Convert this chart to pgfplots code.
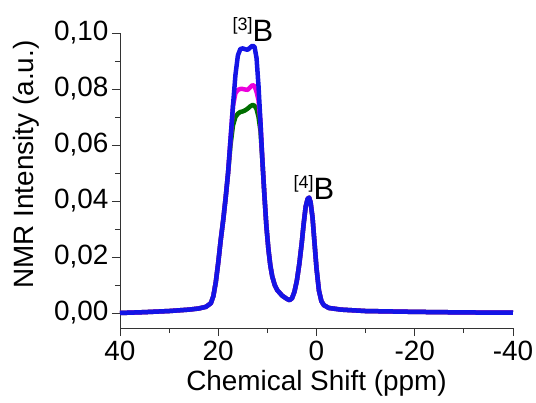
\documentclass[border=0pt]{standalone}
\usepackage{pgfplots}
\pgfplotsset{compat=1.18}
\usepackage{pgfplotstable}
\usepackage{fontspec}
\setmainfont{Liberation Sans}
\definecolor{cblue}{RGB}{20,20,230}
\definecolor{cmag}{RGB}{235,0,220}
\definecolor{cgreen}{RGB}{0,110,0}
\pgfplotstableread{
x y
40 0.0000
35 0.0003
30 0.0007
26 0.0012
24 0.0016
22.5 0.0022
21.5 0.0035
21 0.0060
20.5 0.0110
20 0.0180
19.5 0.0260
19 0.0330
18.5 0.0410
18 0.0500
17.5 0.0620
17 0.0740
16.5 0.0850
16 0.0920
15.5 0.0943
15 0.0945
14.5 0.0942
14 0.0940
13.5 0.0948
13 0.0955
12.6 0.0950
12.2 0.0910
11.8 0.0810
11.4 0.0680
11 0.0540
10.6 0.0420
10.2 0.0310
9.8 0.0230
9.4 0.0170
9 0.0130
8.5 0.0100
8 0.0082
7 0.0062
6 0.0050
5.5 0.0046
5 0.0052
4.5 0.0075
4 0.0115
3.5 0.0175
3 0.0250
2.6 0.0320
2.2 0.0380
1.8 0.0408
1.5 0.0412
1.2 0.0395
0.8 0.0340
0.4 0.0250
0 0.0160
-0.5 0.0080
-1 0.0042
-1.5 0.0028
-2.5 0.0018
-5 0.0012
-10 0.0007
-20 0.0004
-30 0.0002
-40 0.0001
}\tblue
\pgfplotstableread{
x y
40 0.0000
35 0.0003
30 0.0007
26 0.0012
24 0.0016
22.5 0.0022
21.5 0.0035
21 0.0060
20.5 0.0110
20 0.0180
19.5 0.0260
19 0.0330
18.5 0.0410
18 0.0500
17.5 0.0620
17 0.0740
16.5 0.0785
16 0.0797
15.5 0.0800
15 0.0800
14.5 0.0798
14 0.0797
13.5 0.0806
13 0.0814
12.6 0.0810
12.2 0.0790
11.8 0.0760
11.4 0.0680
11 0.0540
10.6 0.0420
10.2 0.0310
9.8 0.0230
9.4 0.0170
9 0.0130
8.5 0.0100
8 0.0082
7 0.0062
6 0.0050
5.5 0.0046
5 0.0052
4.5 0.0075
4 0.0115
3.5 0.0175
3 0.0250
2.6 0.0320
2.2 0.0380
1.8 0.0408
1.5 0.0412
1.2 0.0395
0.8 0.0340
0.4 0.0250
0 0.0160
-0.5 0.0080
-1 0.0042
-1.5 0.0028
-2.5 0.0018
-5 0.0012
-10 0.0007
-20 0.0004
-30 0.0002
-40 0.0001
}\tmagenta
\pgfplotstableread{
x y
40 0.0000
35 0.0003
30 0.0007
26 0.0012
24 0.0016
22.5 0.0022
21.5 0.0035
21 0.0060
20.5 0.0110
20 0.0180
19.5 0.0260
19 0.0330
18.5 0.0410
18 0.0500
17.5 0.0600
17 0.0670
16.5 0.0700
16 0.0712
15.5 0.0718
15 0.0720
14.5 0.0724
14 0.0730
13.5 0.0738
13 0.0743
12.6 0.0740
12.2 0.0728
11.8 0.0700
11.4 0.0650
11 0.0540
10.6 0.0420
10.2 0.0310
9.8 0.0230
9.4 0.0170
9 0.0130
8.5 0.0100
8 0.0082
7 0.0062
6 0.0050
5.5 0.0046
5 0.0052
4.5 0.0075
4 0.0115
3.5 0.0175
3 0.0250
2.6 0.0320
2.2 0.0380
1.8 0.0408
1.5 0.0412
1.2 0.0395
0.8 0.0340
0.4 0.0250
0 0.0160
-0.5 0.0080
-1 0.0042
-1.5 0.0028
-2.5 0.0018
-5 0.0012
-10 0.0007
-20 0.0004
-30 0.0002
-40 0.0001
}\tgreen
\begin{document}
\begin{tikzpicture}
\begin{axis}[
  scale only axis,
  width=393bp, height=295bp,
  x dir=reverse,
  xmin=-40, xmax=40,
  ymin=-0.00536, ymax=0.1,
  axis lines=left,
  axis line style={-, line width=0.8bp, black!80},
  xtick={-40,-20,0,20,40},
  ytick={0,0.02,0.04,0.06,0.08,0.1},
  minor x tick num=1,
  minor y tick num=1,
  tick align=outside,
  major tick length=8bp,
  minor tick length=5bp,
  tick style={line width=0.8bp, black!80},
  scaled y ticks=false,
  /pgf/number format/assume math mode=true,
  yticklabel style={/pgf/number format/fixed, /pgf/number format/fixed zerofill, /pgf/number format/precision=2, /pgf/number format/use comma},
  xticklabel style={/pgf/number format/fixed, /pgf/number format/precision=0, yshift=-1bp},
  ticklabel style={font=\fontsize{28}{30}\selectfont},
  label style={font=\fontsize{28}{30}\selectfont},
  xlabel={Chemical Shift (ppm)},
  ylabel={NMR Intensity (a.u.)},
  xlabel style={yshift=-3bp},
  ylabel style={yshift=8bp, xshift=16bp},
  clip=false,
]
\addplot[cgreen, line width=4.5bp, line join=round] table[x=x,y=y] {\tgreen};
\addplot[cmag, line width=4.5bp, line join=round] table[x=x,y=y] {\tmagenta};
\addplot[cblue, line width=4.5bp, line join=round] table[x=x,y=y] {\tblue};
\node[anchor=base west, inner sep=0pt] at (axis cs:17.1,0.0968)
  {\raisebox{11bp}{\fontsize{18}{18}\selectfont [3]}\fontsize{31}{31}\selectfont B};
\node[anchor=base west, inner sep=0pt] at (axis cs:4.7,0.0404)
  {\raisebox{11bp}{\fontsize{18}{18}\selectfont [4]}\fontsize{31}{31}\selectfont B};
\coordinate (A) at (rel axis cs:0,0);
\end{axis}
\pgfresetboundingbox
\path[use as bounding box] ([shift={(-120bp,-75bp)}]A) rectangle ([shift={(416bp,328bp)}]A);
\end{tikzpicture}
\end{document}
